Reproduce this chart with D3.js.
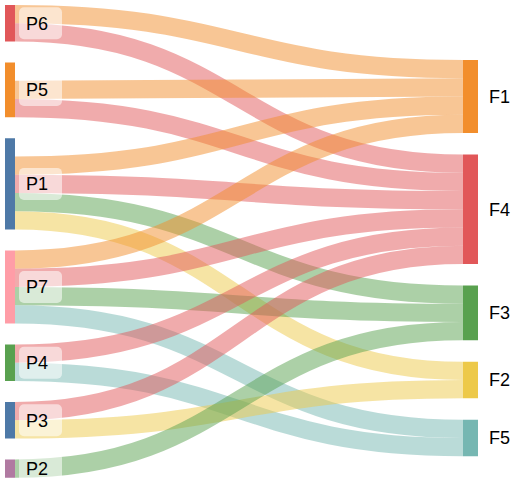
<!DOCTYPE html>
<html><head><meta charset="utf-8">
<script src="https://cdn.jsdelivr.net/npm/d3@7"></script>
<style>body{margin:0;background:#fff}</style>
</head><body>
<script>
// left nodes (top to bottom) and their sizes in units
var sources = ["P6", "P5", "P1", "P7", "P4", "P3", "P2"];
var sourceValues = [2, 3, 5, 4, 2, 2, 1];
var sourceColors = ["#e15759", "#f28e2c", "#4e79a7", "#ff9da7", "#59a14f", "#4e79a7", "#b07aa1"];
// right nodes
var targets = ["F1", "F4", "F3", "F2", "F5"];
var targetColors = ["#f28e2c", "#e15759", "#59a14f", "#edc949", "#76b7b2"];
// links: source, target, value
var linkSource = ["P6","P6","P5","P5","P1","P1","P1","P1","P7","P7","P7","P7","P4","P4","P3","P3","P2"];
var linkTarget = ["F1","F4","F1","F4","F1","F4","F3","F2","F1","F4","F3","F5","F4","F5","F4","F2","F3"];
var linkValue  = [1,1,1,1,1,1,1,1,1,1,1,1,1,1,1,1,1];

var W = 520, H = 489;
var unit = d3.scaleLinear().domain([0, 1]).range([0, 18.25]);
var svg = d3.select("body").append("svg").attr("width", W).attr("height", H);

// place nodes
function layout(names, values, y0, gap) {
    var y = y0, out = {};
    names.forEach(function(n, i) {
        var h = unit(values[i]);
        out[n] = {name: n, y0: y, y1: y + h, i: i};
        y += h + gap;
    });
    return out;
}
var targetValues = targets.map(function(t) {
    return d3.sum(linkTarget.map(function(d, i) { return d === t ? linkValue[i] : 0; }));
});
var left = layout(sources, sourceValues, 5, 21);
var right = layout(targets, targetValues, 60, 21.5);

var links = linkSource.map(function(s, i) {
    return {source: left[s], target: right[linkTarget[i]], value: linkValue[i]};
});

// source side: links stacked at bottom of node, ordered by target position
sources.forEach(function(s) {
    var ls = links.filter(function(l) { return l.source.name === s; })
                  .sort(function(a, b) { return a.target.i - b.target.i; });
    var y = left[s].y1 - d3.sum(ls, function(l) { return unit(l.value); });
    ls.forEach(function(l) { l.w = unit(l.value); l.sy = y + l.w / 2; y += l.w; });
});
targets.forEach(function(t) {
    var ls = links.filter(function(l) { return l.target.name === t; })
                  .sort(function(a, b) { return a.source.i - b.source.i; });
    var y = right[t].y0;
    ls.forEach(function(l) { l.ty = y + unit(l.value) / 2; y += unit(l.value); });
});

var x0 = 15, x1 = 463;
var linkGen = d3.linkHorizontal()
    .source(function(d) { return [x0, d.sy]; })
    .target(function(d) { return [x1, d.ty]; });

svg.append("g").selectAll("path")
   .data(links)
   .enter()
   .append("path")
   .attr("d", linkGen)
   .attr("fill", "none")
   .attr("stroke", function(d) { return targetColors[d.target.i]; })
   .attr("stroke-opacity", 0.5)
   .attr("stroke-width", function(d) { return d.w; });

// left nodes
var ln = svg.append("g").selectAll("g")
   .data(sources.map(function(s) { return left[s]; }))
   .enter().append("g");
ln.append("rect")
  .attr("x", 5).attr("width", 10)
  .attr("y", function(d) { return d.y0; })
  .attr("height", function(d) { return d.y1 - d.y0; })
  .attr("fill", function(d) { return sourceColors[d.i]; });
ln.append("rect")
  .attr("x", 19).attr("width", 43)
  .attr("y", function(d) { return (d.y0 + d.y1) / 2 - 16; })
  .attr("height", 32).attr("rx", 5)
  .attr("fill", "#fff").attr("fill-opacity", 0.55);
ln.append("text")
  .attr("x", 26)
  .attr("y", function(d) { return (d.y0 + d.y1) / 2; })
  .attr("dy", "0.35em")
  .style("font", "18px 'Liberation Sans', Arial, sans-serif")
  .text(function(d) { return d.name; });

// right nodes
var rn = svg.append("g").selectAll("g")
   .data(targets.map(function(t) { return right[t]; }))
   .enter().append("g");
rn.append("rect")
  .attr("x", x1).attr("width", 15)
  .attr("y", function(d) { return d.y0; })
  .attr("height", function(d) { return d.y1 - d.y0; })
  .attr("fill", function(d) { return targetColors[d.i]; });
rn.append("text")
  .attr("x", 489)
  .attr("y", function(d) { return (d.y0 + d.y1) / 2; })
  .attr("dy", "0.35em")
  .style("font", "18px 'Liberation Sans', Arial, sans-serif")
  .text(function(d) { return d.name; });
</script>
</body></html>
